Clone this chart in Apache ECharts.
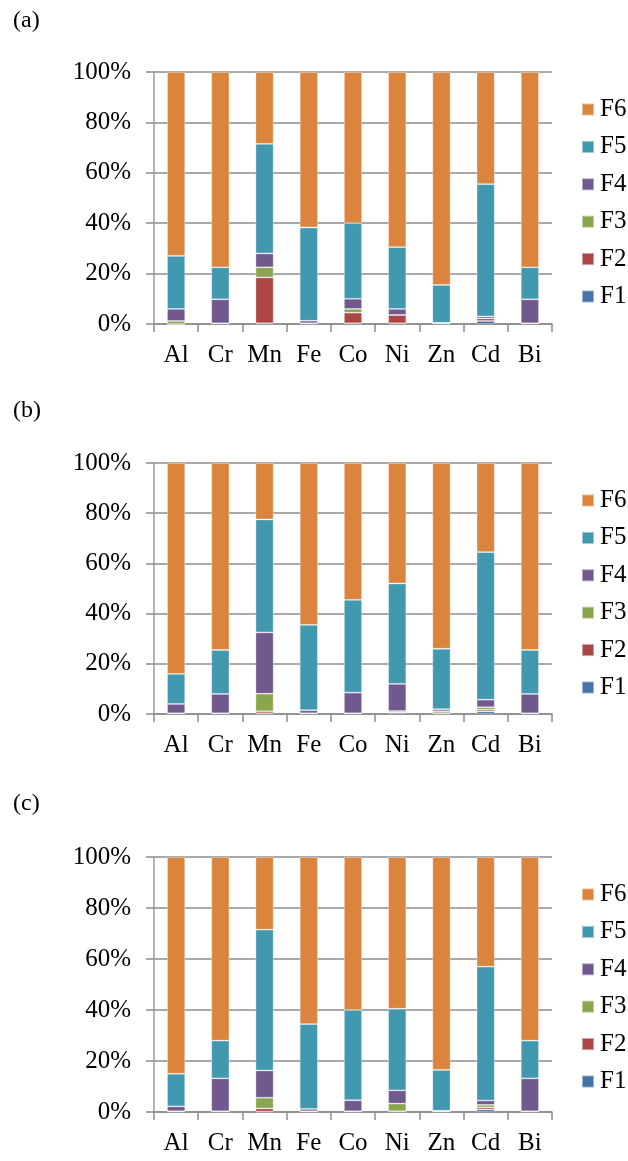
<!DOCTYPE html>
<html>
<head>
<meta charset="utf-8">
<script src="https://cdn.jsdelivr.net/npm/echarts@6/dist/echarts.min.js"></script>
<style>
html,body{margin:0;padding:0;background:#fff;}
#chart{width:628px;height:1161px;}
</style>
</head>
<body>
<div id="chart"></div>
<script>
var categories = ['Al','Cr','Mn','Fe','Co','Ni','Zn','Cd','Bi'];
var fractions = ['F1','F2','F3','F4','F5','F6'];
var yTicks = [0,20,40,60,80,100];
var panelLabels = ['(a)','(b)','(c)'];

// Panel (a)
var a_F1 = [0,   0.3, 0.3, 0.3, 0.3, 0.3, 0.3, 1.2, 0.3];
var a_F2 = [0,   0,   18.2,0,   4.2, 3.3, 0,   1.0, 0];
var a_F3 = [1.2, 0,   4.0, 0,   1.5, 0,   0,   0,   0];
var a_F4 = [4.8, 9.5, 5.5, 1.0, 4.0, 2.4, 0.2, 0.8, 9.5];
var a_F5 = [21,  12.7,43.5,37,  30,  24.5,15,  52.5,12.7];
var a_F6 = [73,  77.5,28.5,61.7,60,  69.5,84.5,44.5,77.5];

// Panel (b)
var b_F1 = [0.3, 0.3, 0.3, 0.3, 0.3, 0.6, 0.3, 1.0, 0.3];
var b_F2 = [0,   0,   0.8, 0,   0,   0,   0,   0.7, 0];
var b_F3 = [0,   0,   7.0, 0,   0,   0.6, 0.8, 1.0, 0];
var b_F4 = [3.7, 7.7, 24.4,1.2, 8.2, 10.8,0.8, 3.0, 7.7];
var b_F5 = [12,  17.5,45,  34,  37,  40,  24.1,58.8,17.5];
var b_F6 = [84,  74.5,22.5,64.5,54.5,48,  74,  35.5,74.5];

// Panel (c)
var c_F1 = [0.3, 0.3, 0.2, 0.3, 0.3, 0.3, 0.3, 1.0, 0.3];
var c_F2 = [0,   0,   1.2, 0,   0,   0,   0,   0.8, 0];
var c_F3 = [0,   0,   4.2, 0,   0,   3.0, 0,   1.0, 0];
var c_F4 = [1.9, 12.9,10.7,0.9, 4.3, 5.2, 0.2, 1.7, 12.9];
var c_F5 = [12.8,14.8,55.2,33.3,35.4,32,  16,  52.5,14.8];
var c_F6 = [85,  72,  28.5,65.5,60,  59.5,83.5,43,  72];

var panels = [
  [a_F1,a_F2,a_F3,a_F4,a_F5,a_F6],
  [b_F1,b_F2,b_F3,b_F4,b_F5,b_F6],
  [c_F1,c_F2,c_F3,c_F4,c_F5,c_F6]
];

var colors = ['#4572A7','#AA4643','#89A54E','#71588F','#4198AF','#DB843D'];
var FONT = 'Liberation Serif';
var gridTops = [72, 463, 857];
var gridHeights = [252, 251, 255];
var labelTops = [22, 412, 805];

var grids = [], xAxes = [], yAxes = [], series = [], legends = [], graphics = [];
for (var p = 0; p < 3; p++) {
  grids.push({left:154, right:76, top:gridTops[p], height:gridHeights[p], containLabel:false});
  xAxes.push({
    type:'category', gridIndex:p, data:categories,
    axisLine:{show:true, lineStyle:{color:'#8c8c8c', width:1.5}},
    axisTick:{show:true, interval:0, length:8, lineStyle:{color:'#8c8c8c', width:1.5}},
    axisLabel:{interval:0, hideOverlap:false, fontFamily:FONT, fontSize:25, color:'#000', margin:19}
  });
  yAxes.push({
    type:'value', gridIndex:p, min:0, max:100, interval:20,
    axisLine:{show:true, lineStyle:{color:'#9c9c9c', width:1.5}},
    axisTick:{show:true, length:8, inside:false, lineStyle:{color:'#8c8c8c', width:1.5}},
    splitLine:{show:true, lineStyle:{color:'#8c8c8c', width:1.5}},
    axisLabel:{fontFamily:FONT, fontSize:25, color:'#000', margin:23,
      formatter:function(v){ return yTicks.indexOf(v) >= 0 ? v + '%' : ''; }}
  });
  for (var f = 0; f < 6; f++) {
    series.push({
      name:fractions[f], type:'bar', stack:'s'+p, xAxisIndex:p, yAxisIndex:p,
      data:panels[p][f], barWidth:'41%',
      itemStyle:{color:colors[f], borderColor:'rgba(255,255,255,0.45)', borderWidth:0.8},
      emphasis:{disabled:true}
    });
  }
  legends.push({
    orient:'vertical', left:576, top:gridTops[p]+20,
    data:['F6','F5','F4','F3','F2','F1'],
    icon:'rect', itemWidth:12, itemHeight:12, itemGap:12.4,
    textStyle:{fontFamily:FONT, fontSize:25, color:'#000', lineHeight:22, padding:[0,0,0,1]},
    selectedMode:false
  });
  graphics.push({
    type:'text', left:13, top:labelTops[p]-13,
    style:{text:panelLabels[p], font:'24px "Liberation Serif"', fill:'#000'}
  });
}

var chart = echarts.init(document.getElementById('chart'), null, {renderer:'canvas'});
chart.setOption({
  animation:false,
  backgroundColor:'#fff',
  color:colors,
  grid:grids, xAxis:xAxes, yAxis:yAxes, series:series, legend:legends,
  graphic:graphics
});
</script>
</body>
</html>
